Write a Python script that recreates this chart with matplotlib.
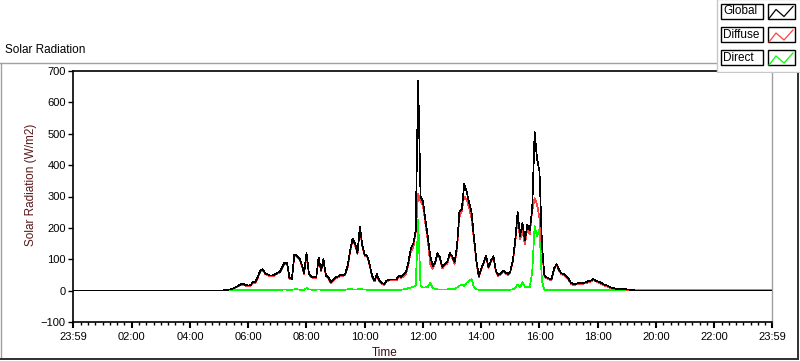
import numpy as np
import matplotlib
matplotlib.use("Agg")
import matplotlib.pyplot as plt
from matplotlib.patches import Rectangle

plt.rcParams['font.family'] = ['Liberation Sans', 'DejaVu Sans']

# 5-minute samples from 05:00 to 19:30, night is zero
start_hour = 5.0
step_hours = 5 / 60

global_rad = [
    0, 0, 1, 2, 3, 5, 8, 12, 16, 20, 21, 18,
    16, 18, 27, 28, 45, 65, 68, 55, 52, 48, 48, 52,
    57, 60, 75, 90, 88, 40, 38, 115, 112, 105, 85, 55,
    120, 55, 45, 43, 42, 105, 64, 100, 48, 43, 27, 35,
    43, 45, 50, 48, 55, 80, 130, 165, 150, 120, 203, 145,
    115, 110, 85, 48, 32, 53, 32, 25, 21, 32, 35, 35,
    35, 35, 48, 43, 50, 58, 91, 135, 150, 190, 670, 300,
    285, 225, 170, 110, 78, 90, 120, 105, 75, 85, 90, 120,
    110, 90, 140, 250, 260, 340, 315, 280, 250, 170, 96, 45,
    70, 90, 110, 75, 95, 110, 64, 50, 55, 64, 58, 53,
    62, 95, 160, 250, 175, 215, 160, 210, 192, 260, 505, 420,
    380, 150, 50, 42, 38, 37, 70, 85, 68, 55, 53, 45,
    37, 25, 21, 22, 24, 25, 25, 26, 30, 31, 37, 33,
    29, 27, 22, 18, 16, 12, 8, 7, 5, 5, 5, 5,
    4, 3, 2, 1, 0, 0, 0,
]
diffuse_rad = [
    0, 0, 1, 2, 3, 5, 7, 10, 14, 18, 19, 16,
    14, 16, 24, 25, 42, 62, 65, 52, 49, 45, 45, 49,
    54, 57, 72, 86, 85, 37, 35, 110, 108, 101, 82, 52,
    112, 52, 42, 40, 39, 100, 61, 96, 45, 40, 24, 32,
    40, 42, 47, 45, 52, 76, 125, 160, 146, 116, 196, 141,
    111, 107, 82, 45, 29, 50, 29, 22, 18, 29, 32, 32,
    32, 32, 45, 40, 46, 53, 83, 125, 138, 185, 310, 285,
    270, 215, 158, 85, 70, 85, 116, 101, 71, 81, 86, 115,
    105, 85, 130, 235, 255, 300, 290, 265, 230, 160, 92, 42,
    67, 87, 107, 72, 92, 107, 61, 47, 52, 61, 55, 50,
    59, 91, 152, 230, 165, 190, 148, 200, 180, 255, 295, 275,
    230, 140, 47, 39, 35, 34, 67, 82, 65, 52, 50, 42,
    34, 22, 18, 19, 21, 22, 22, 23, 27, 28, 34, 30,
    26, 24, 19, 15, 13, 9, 6, 5, 4, 4, 4, 4,
    3, 2, 1, 0, 0, 0, 0,
]
direct_rad = [
    0, 0, 0, 0, 0, 0, 1, 2, 2, 2, 2, 2,
    2, 2, 3, 3, 3, 3, 3, 3, 3, 3, 3, 3,
    3, 3, 3, 4, 3, 3, 3, 4, 5, 3, 3, 3,
    8, 4, 3, 3, 3, 4, 3, 3, 3, 3, 3, 3,
    3, 3, 3, 3, 3, 4, 5, 4, 4, 4, 6, 4,
    4, 3, 3, 3, 3, 3, 3, 3, 3, 3, 3, 3,
    3, 3, 3, 3, 4, 5, 8, 10, 12, 15, 225, 15,
    10, 10, 12, 25, 8, 5, 4, 4, 4, 4, 4, 5,
    5, 5, 10, 15, 20, 15, 25, 30, 37, 10, 4, 3,
    3, 3, 3, 3, 3, 3, 3, 3, 3, 3, 3, 3,
    3, 4, 8, 20, 10, 27, 12, 10, 12, 60, 205, 175,
    195, 30, 3, 3, 3, 3, 3, 3, 3, 3, 3, 3,
    3, 3, 3, 3, 3, 3, 3, 3, 3, 3, 3, 3,
    3, 3, 3, 3, 3, 3, 3, 3, 3, 3, 3, 3,
    3, 3, 3, 3, 3, 3, 3,
]
night_start = [0, 0, 0]      # global, diffuse, direct at 23:59 (previous day)
night_end = [0, 0, 3]        # at 23:59

tick_hours = [-1 / 60, 2, 4, 6, 8, 10, 12, 14, 16, 18, 20, 22, 24 - 1 / 60]
tick_labels = ["23:59", "02:00", "04:00", "06:00", "08:00", "10:00", "12:00",
               "14:00", "16:00", "18:00", "20:00", "22:00", "23:59"]
y_ticks = [-100, 0, 100, 200, 300, 400, 500, 600, 700]
series_names = ["Global", "Diffuse", "Direct"]
series_colors = ["#000000", "#ff4040", "#00ff00"]

W, H = 800, 361
fig = plt.figure(figsize=(W / 100, H / 100), dpi=100)
fig.patch.set_facecolor("white")

# outer frame of the chart control
frame = fig.add_axes([0, 0, 1, 1], zorder=0)
frame.set_xlim(0, W)
frame.set_ylim(H, 0)
frame.axis("off")
frame.plot([0, 717], [63, 63], color="#a0a0a0", lw=1)
frame.plot([0.7, 0.7], [63, 358], color="#a0a0a0", lw=1)
frame.plot([0, 798], [358.5, 358.5], color="#303030", lw=1.4)
frame.plot([798.3, 798.3], [72, 358.5], color="#303030", lw=1.4)
frame.text(5, 50, "Solar Radiation", fontsize=8.5, va="center", ha="left")
frame.text(31, 185, "Solar Radiation (W/m2)", fontsize=8.5, rotation=90,
           va="center", ha="center", color="#5a1818")
frame.text(385, 353, "Time", fontsize=8.5, va="center", ha="center",
           color="#3a1010")

ax = fig.add_axes([73 / W, 1 - 322 / H, (772 - 73) / W, (322 - 71) / H], zorder=2)
hours = start_hour + step_hours * np.arange(len(global_rad))
x = np.concatenate([[tick_hours[0]], hours, [tick_hours[-1]]])
series = [global_rad, diffuse_rad, direct_rad]
zorders = [5, 4, 3]
for vals, s0, s1, c, z in zip(series, night_start, night_end, series_colors, zorders):
    y = np.concatenate([[s0], vals, [s1]])
    ax.plot(x, y, color=c, lw=0.5, zorder=z, antialiased=False)

ax.set_xlim(tick_hours[0], tick_hours[-1])
ax.set_ylim(-100, 700)
ax.set_xticks(tick_hours)
ax.set_xticklabels(tick_labels)
minor = [h for h in np.arange(0.25, 24, 0.25) if h % 2 != 0]
ax.set_xticks(minor, minor=True)
ax.set_yticks(y_ticks)
ax.tick_params(axis="x", which="major", length=4.5, width=1.5, pad=2.5, labelsize=8)
ax.tick_params(axis="x", which="minor", length=2.5, width=1)
ax.tick_params(axis="y", length=3.8, width=1, pad=1.5, labelsize=8)
for side in ["left", "bottom", "top"]:
    ax.spines[side].set_color("black")
    ax.spines[side].set_linewidth(1.2)
ax.spines["right"].set_color("#a0a0a0")
ax.spines["right"].set_linewidth(1)

# legend in the top right corner
lg = fig.add_axes([715 / W, 1 - 73 / H, 85 / W, 73 / H], zorder=6)
lg.set_xlim(715, 800)
lg.set_ylim(73, 0)
lg.axis("off")
lg.add_patch(Rectangle((716.5, -1), 90, 73, facecolor="white",
                       edgecolor="#c8c8c8", lw=1))
rows = [3.5, 27, 50]
for name, color, top in zip(series_names, series_colors, rows):
    lg.add_patch(Rectangle((721, top), 42, 15, facecolor="white",
                           edgecolor="black", lw=1))
    lg.text(723, top + 7.8, name, fontsize=8.5, va="center", ha="left")
    lg.add_patch(Rectangle((768, top), 27, 15, facecolor="white",
                           edgecolor="black", lw=1))
    lg.plot([769, 776, 784, 793], [top + 15, top + 6, top + 13, top + 3],
            color=color, lw=0.9)

fig.savefig("out.png", dpi=100, facecolor="white")
